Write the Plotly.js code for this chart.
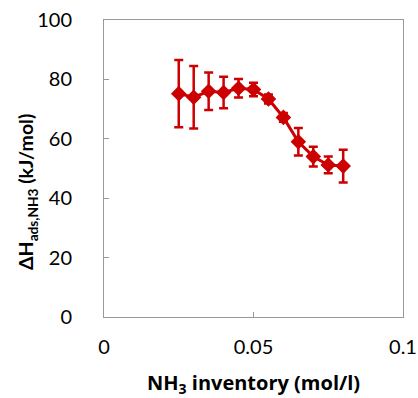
<!DOCTYPE html>
<html><head><meta charset="utf-8">
<script src="https://cdn.plot.ly/plotly-3.0.1.min.js"></script>
<style>html,body{margin:0;padding:0;background:#fff}#c{width:418px;height:398px}</style>
</head><body><div id="c"></div>
<script>
const inventory = [0.025, 0.030, 0.035, 0.040, 0.045, 0.050, 0.055, 0.060, 0.065, 0.070, 0.075, 0.080];
const dH = [75.2, 74.0, 76.0, 75.6, 77.0, 76.6, 73.4, 67.2, 59.0, 54.0, 51.2, 50.8];
const dHerr = [11.3, 10.5, 6.3, 5.3, 3.1, 2.3, 1.5, 1.5, 4.6, 3.3, 2.8, 5.5];
const xTicks = [0, 0.05, 0.1];
const xTickText = ['0', '0.05', '0.1'];
const yTicks = [0, 20, 40, 60, 80, 100];
const xTitle = 'NH<sub>3</sub> inventory (mol/l)';
const yTitle = 'ΔH<sub>ads,NH3</sub> (kJ/mol)';

const red = '#CC0000';
const data = [{
  x: inventory, y: dH, type: 'scatter', mode: 'lines+markers',
  line: {color: red, width: 3},
  marker: {symbol: 'diamond', size: 12, color: red},
  error_y: {type: 'data', array: dHerr, visible: true, color: red, thickness: 2.5, width: 4.5}
}];
const fam = 'Lato, "Open Sans", sans-serif';
const layout = {
  width: 418, height: 398,
  margin: {l: 104, r: 15, t: 19.5, b: 81},
  paper_bgcolor: '#fff', plot_bgcolor: '#fff',
  showlegend: false,
  font: {family: fam, color: '#000'},
  xaxis: {
    range: [0, 0.1], tickvals: xTicks, ticktext: xTickText,
    ticks: 'inside', ticklen: 5, tickcolor: '#999', tickwidth: 1,
    showline: true, linecolor: '#999', linewidth: 1, mirror: true,
    showgrid: false, zeroline: false,
    tickfont: {family: fam, size: 20, color: '#000'},
    ticklabelstandoff: 12
  },
  yaxis: {
    range: [0, 100], tickvals: yTicks,
    ticks: 'inside', ticklen: 5, tickcolor: '#999', tickwidth: 1,
    showline: true, linecolor: '#999', linewidth: 1, mirror: true,
    showgrid: false, zeroline: false,
    tickfont: {family: fam, size: 20, color: '#000'},
    ticklabelstandoff: 27
  },
  annotations: [
    {text: xTitle, xref: 'paper', yref: 'paper', x: 0.5, y: -0.224, xanchor: 'center', yanchor: 'middle',
     showarrow: false, font: {family: '"Open Sans", Lato, sans-serif', size: 20, color: '#000', weight: 'bold'}},
    {text: yTitle, xref: 'paper', yref: 'paper', x: -0.255, y: 0.42, xanchor: 'center', yanchor: 'middle',
     textangle: -90, showarrow: false, font: {family: fam, size: 19.5, color: '#000', weight: 'bold'}}
  ]
};
Plotly.newPlot('c', data, layout, {displayModeBar: false, staticPlot: true});
</script></body></html>
